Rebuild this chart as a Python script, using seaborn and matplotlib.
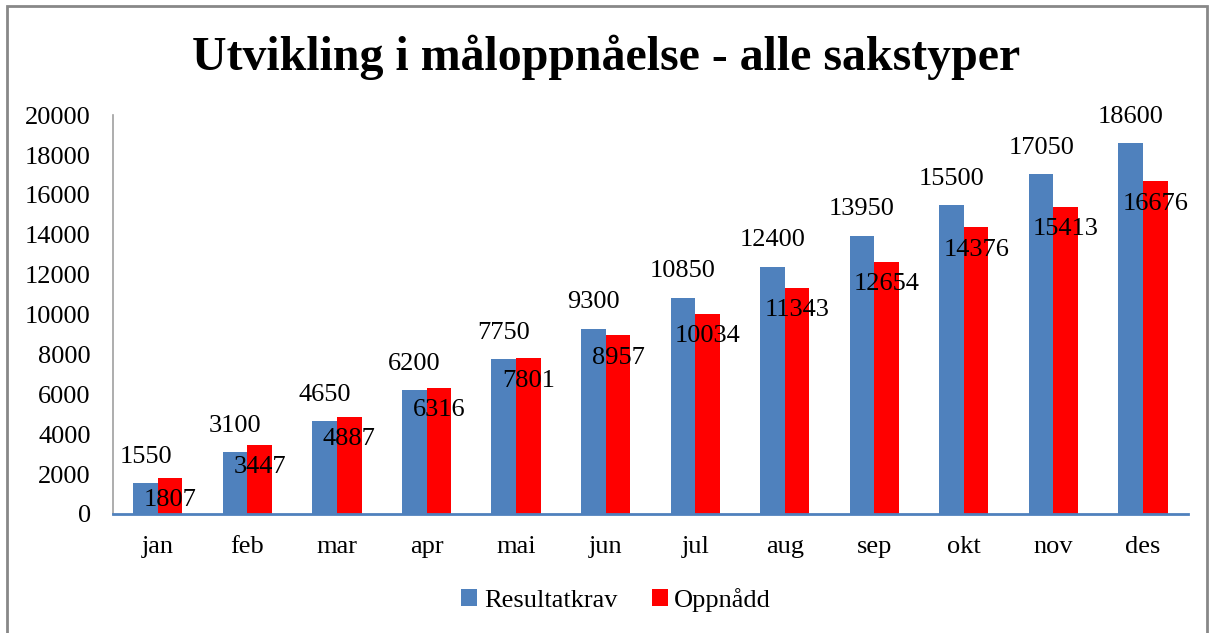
import matplotlib
matplotlib.use("Agg")
import matplotlib.pyplot as plt
import seaborn as sns
import pandas as pd
from matplotlib.patches import Rectangle, Patch

months = ["jan", "feb", "mar", "apr", "mai", "jun", "jul", "aug", "sep", "okt", "nov", "des"]
resultatkrav = [1550, 3100, 4650, 6200, 7750, 9300, 10850, 12400, 13950, 15500, 17050, 18600]
oppnadd = [1807, 3447, 4887, 6316, 7801, 8957, 10034, 11343, 12654, 14376, 15413, 16676]
series = ["Resultatkrav", "Oppnådd"]
colors = ["#4F81BD", "#FF0000"]
title = "Utvikling i måloppnåelse - alle sakstyper"

df = pd.DataFrame({
    "month": months * 2,
    "value": resultatkrav + oppnadd,
    "series": [series[0]] * len(months) + [series[1]] * len(months),
})

sns.set_theme(style="white")
plt.rcParams["font.family"] = ["Liberation Serif", "DejaVu Serif"]
plt.rcParams["text.color"] = "black"

FS = 19

fig = plt.figure(figsize=(12.13, 6.33), dpi=100)
ax = fig.add_axes([0.0932, 0.188, 0.886, 0.630])

sns.barplot(data=df, x="month", y="value", hue="series", palette=colors,
            width=0.55, ax=ax, legend=False, saturation=1, linewidth=0)

ax.set_xlim(-0.5, 11.5)
ax.set_ylim(0, 20000)
ax.set_yticks(range(0, 20001, 2000))
ax.set_xlabel("")
ax.set_ylabel("")
ax.tick_params(axis="both", length=0, labelsize=FS, colors="black")
ax.tick_params(axis="y", pad=16)
ax.tick_params(axis="x", pad=16)
for s in ["top", "right"]:
    ax.spines[s].set_visible(False)
ax.spines["left"].set_color("#A0A0A0")
ax.spines["left"].set_linewidth(1.2)
ax.spines["bottom"].set_color("#4F81BD")
ax.spines["bottom"].set_linewidth(2)
ax.grid(False)

# data labels
for i, cont in enumerate(ax.containers):
    for bar in cont:
        h = bar.get_height()
        xc = bar.get_x() + bar.get_width() / 2
        if i == 0:
            ax.annotate(f"{int(h)}", (xc, h), xytext=(0, 19), textcoords="offset points",
                        ha="center", va="center", fontsize=FS, color="black")
        else:
            ax.annotate(f"{int(h)}", (xc, h), xytext=(0, -16), textcoords="offset points",
                        ha="center", va="center", fontsize=FS, color="black")

fig.text(0.5, 0.909, title, ha="center", va="center", fontsize=34.5, fontweight="bold",
         color="black")

handles = [Patch(facecolor=c, edgecolor="none") for c in colors]
leg = fig.legend(handles, series, loc="center", bbox_to_anchor=(0.508, 0.052), ncol=2,
                 frameon=False, fontsize=FS, handlelength=0.6, handleheight=0.6,
                 handletextpad=0.25, columnspacing=1.3)
for t in leg.get_texts():
    t.set_color("black")

fig.patches.append(Rectangle((7 / 1213, -0.05), (1207 - 7) / 1213, (633 - 6) / 633 + 0.05,
                             transform=fig.transFigure, fill=False,
                             edgecolor="#888888", linewidth=2))

fig.savefig("out.png", dpi=100)
